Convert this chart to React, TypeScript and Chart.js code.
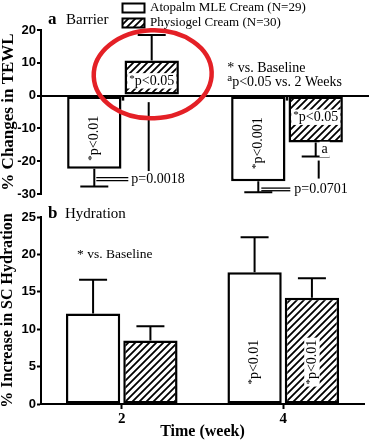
import React, { useEffect, useRef } from "react";
import { Chart, registerables } from "chart.js";
Chart.register(...registerables);

const weeks = ["2", "4"];
const seriesNames = ["Atopalm MLE Cream (N=29)", "Physiogel Cream (N=30)"];

const tewlAtopalm = [-22.3, -26.1];
const tewlAtopalmErr = [-27.7, -29.5];
const tewlPhysiogel = [10.7, -14.3];
const tewlPhysiogelErr = [18.5, -18.6];
const tewlTicks = [-30, -20, -10, 0, 10, 20];

const hydAtopalm = [12.1, 17.6];
const hydAtopalmErr = [16.6, 22.3];
const hydPhysiogel = [8.5, 14.2];
const hydPhysiogelErr = [10.4, 16.8];
const hydTicks = [0, 5, 10, 15, 20, 25];

const SERIF = '"Liberation Serif", "Times New Roman", serif';
const SANS = '"Liberation Sans Narrow", "Liberation Sans", Arial, sans-serif';
const RED = "rgb(228,32,38)";

function makeHatch(): CanvasPattern {
  const s = 7;
  const c = document.createElement("canvas");
  c.width = s;
  c.height = s;
  const g = c.getContext("2d")!;
  g.fillStyle = "#fff";
  g.fillRect(0, 0, s, s);
  g.strokeStyle = "#000";
  g.lineWidth = 1.8;
  g.beginPath();
  g.moveTo(-1, s + 1);
  g.lineTo(s + 1, -1);
  g.moveTo(-1, 1);
  g.lineTo(1, -1);
  g.moveTo(s - 1, s + 1);
  g.lineTo(s + 1, s - 1);
  g.stroke();
  return g.createPattern(c, "repeat")!;
}

type LOpts = {
  rot?: number;
  bg?: boolean;
  sup?: string;
  supRaise?: number;
  align?: "left" | "center";
  bold?: boolean;
};

function label(ctx: CanvasRenderingContext2D, text: string, x: number, y: number, size: number, o: LOpts = {}) {
  ctx.save();
  ctx.translate(x, y);
  if (o.rot) ctx.rotate(o.rot);
  const main = `${o.bold ? "bold " : ""}${size}px ${SERIF}`;
  const supF = `${Math.round(size * 0.75)}px ${SERIF}`;
  ctx.font = supF;
  const ws = o.sup ? ctx.measureText(o.sup).width : 0;
  ctx.font = main;
  const wm = ctx.measureText(text).width;
  const w = ws + wm;
  const x0 = o.align === "left" ? 0 : -w / 2;
  if (o.bg) {
    ctx.fillStyle = "#fff";
    ctx.fillRect(x0 - 2, -size * 0.55, w + 4, size * 1.1);
  }
  ctx.fillStyle = "#000";
  ctx.textBaseline = "middle";
  ctx.textAlign = "left";
  if (o.sup) {
    ctx.font = supF;
    ctx.fillText(o.sup, x0, -size * (o.supRaise ?? 0.15));
  }
  ctx.font = main;
  ctx.fillText(text, x0 + ws, 0);
  ctx.restore();
}

function drawErrors(chart: any, errs: number[][]) {
  const ctx: CanvasRenderingContext2D = chart.ctx;
  const ys = chart.scales.y;
  ctx.save();
  ctx.strokeStyle = "#000";
  ctx.lineWidth = 2;
  errs.forEach((arr, d) => {
    const meta = chart.getDatasetMeta(d);
    arr.forEach((e, i) => {
      const b: any = meta.data[i];
      const y1 = ys.getPixelForValue(e);
      ctx.beginPath();
      ctx.moveTo(b.x, b.y);
      ctx.lineTo(b.x, y1);
      ctx.moveTo(b.x - 14, y1);
      ctx.lineTo(b.x + 14, y1);
      ctx.stroke();
    });
  });
  ctx.restore();
}

function line(ctx: CanvasRenderingContext2D, x1: number, y1: number, x2: number, y2: number, w = 1.5) {
  ctx.save();
  ctx.strokeStyle = "#000";
  ctx.lineWidth = w;
  ctx.beginPath();
  ctx.moveTo(x1, y1);
  ctx.lineTo(x2, y2);
  ctx.stroke();
  ctx.restore();
}

export default function App() {
  const topRef = useRef<HTMLCanvasElement>(null);
  const botRef = useRef<HTMLCanvasElement>(null);

  useEffect(() => {
    const hatch = makeHatch();

    const topPlugin = {
      id: "topDeco",
      afterDraw(chart: any) {
        const ctx: CanvasRenderingContext2D = chart.ctx;
        const xs = chart.scales.x;
        const ys = chart.scales.y;
        const bar = (d: number, i: number) => chart.getDatasetMeta(d).data[i] as any;
        const Y = (v: number) => ys.getPixelForValue(v);
        weeks.forEach((_, i) => {
          const x = xs.getPixelForValue(i);
          line(ctx, x, Y(0), x, Y(0) + 5, 2.5);
        });
        drawErrors(chart, [tewlAtopalmErr, tewlPhysiogelErr]);
        label(ctx, "p<0.05", bar(1, 0).x, Y(4.5), 14, { bg: true, sup: "*" });
        label(ctx, "p<0.01", bar(0, 0).x, Y(-13), 14, { rot: -Math.PI / 2, sup: "*" });
        label(ctx, "p<0.001", bar(0, 1).x, Y(-14.5), 14, { rot: -Math.PI / 2, sup: "*" });
        label(ctx, "p<0.05", bar(1, 1).x, Y(-6.6), 14, { bg: true, sup: "*" });
        label(ctx, "a", bar(1, 1).x + 9, Y(-16.4), 14, { bg: true });
        const b00 = bar(0, 0), b10 = bar(1, 0), b01 = bar(0, 1), b11 = bar(1, 1);
        line(ctx, b10.x - 3, Y(-2), b10.x - 3, Y(-23), 2);
        line(ctx, b00.x + 2, Y(-25), b00.x + 34, Y(-25), 1.3);
        line(ctx, b00.x + 2, Y(-25.9), b00.x + 34, Y(-25.9), 1.3);
        label(ctx, "p=0.0018", b00.x + 37, Y(-25.4), 14, { align: "left" });
        line(ctx, b11.x + 3, Y(-19.8), b11.x + 3, Y(-25.3), 2);
        line(ctx, b01.x + 3, Y(-28.2), b01.x + 32, Y(-28.2), 1.3);
        line(ctx, b01.x + 3, Y(-29), b01.x + 32, Y(-29), 1.3);
        label(ctx, "p=0.0701", b01.x + 36, Y(-28.6), 14, { align: "left" });
        label(ctx, "* vs. Baseline", b01.x - 31, Y(8.2), 14, { align: "left" });
        label(ctx, "p<0.05 vs. 2 Weeks", b01.x - 31, Y(4), 14, { align: "left", sup: "a", supRaise: 0.3 });
        ctx.save();
        ctx.lineWidth = 2;
        ctx.strokeStyle = "#000";
        ctx.fillStyle = "#fff";
        ctx.fillRect(122.5, 3.5, 22, 9);
        ctx.strokeRect(122.5, 3.5, 22, 9);
        ctx.fillStyle = hatch;
        ctx.fillRect(122.5, 18.5, 22, 9);
        ctx.strokeRect(122.5, 18.5, 22, 9);
        ctx.restore();
        label(ctx, seriesNames[0], 150, 8, 13, { align: "left" });
        label(ctx, seriesNames[1], 150, 23, 13, { align: "left" });
        label(ctx, "a", 48, 20, 17, { align: "left", bold: true });
        label(ctx, "Barrier", 66, 20, 15, { align: "left" });
        ctx.save();
        ctx.strokeStyle = RED;
        ctx.lineWidth = 4.5;
        ctx.beginPath();
        ctx.ellipse(b10.x + 1, Y(6.5), 59, 44, -0.04, 0, Math.PI * 2);
        ctx.stroke();
        ctx.restore();
      },
    };

    const botPlugin = {
      id: "botDeco",
      afterDraw(chart: any) {
        const ctx: CanvasRenderingContext2D = chart.ctx;
        const xs = chart.scales.x;
        const ys = chart.scales.y;
        const bar = (d: number, i: number) => chart.getDatasetMeta(d).data[i] as any;
        const Y = (v: number) => ys.getPixelForValue(v);
        drawErrors(chart, [hydAtopalmErr, hydPhysiogelErr]);
        label(ctx, "* vs. Baseline", xs.getPixelForValue(0) - 7, Y(20), 13.5);
        label(ctx, "p<0.01", bar(0, 1).x, Y(5.6), 14, { rot: -Math.PI / 2, sup: "*" });
        label(ctx, "p<0.01", bar(1, 1).x, Y(5.6), 14, { rot: -Math.PI / 2, sup: "*", bg: true });
        label(ctx, "b", 48, 9, 17, { align: "left", bold: true });
        label(ctx, "Hydration", 65, 9, 15, { align: "left" });
      },
    };

    const tickFont = { family: SANS, weight: "bold" as const, size: 13 };
    const barStyle = { borderColor: "#000", borderWidth: 2.5, borderSkipped: false as const };

    const top = new Chart(topRef.current!, {
      type: "bar",
      data: {
        labels: weeks,
        datasets: [
          { label: seriesNames[0], data: tewlAtopalm, backgroundColor: "#fff", ...barStyle, categoryPercentage: 0.7, barPercentage: 0.947 },
          { label: seriesNames[1], data: tewlPhysiogel, backgroundColor: hatch, ...barStyle, categoryPercentage: 0.7, barPercentage: 0.947 },
        ],
      },
      options: {
        animation: false,
        responsive: false,
        maintainAspectRatio: false,
        layout: { padding: { top: 30, bottom: 11, left: 0, right: 0 } },
        plugins: { legend: { display: false }, tooltip: { enabled: false } },
        scales: {
          x: { display: false, grid: { offset: false } },
          y: {
            min: -30,
            max: 20,
            afterBuildTicks: (s: any) => {
              s.ticks = tewlTicks.map((v) => ({ value: v }));
            },
            afterFit: (s: any) => {
              s.width = 41;
            },
            ticks: { font: tickFont, color: "#000", padding: 1 },
            grid: {
              color: (c: any) => (c.tick && c.tick.value === 0 ? "#000" : "rgba(0,0,0,0)"),
              lineWidth: 2,
              tickColor: "#000",
              tickWidth: 2,
              tickLength: 4,
            },
            border: { color: "#000", width: 2 },
            title: {
              display: true,
              text: "% Changes in TEWL",
              font: { family: SERIF, weight: "bold", size: 17, lineHeight: 1 },
              color: "#000",
              padding: 0,
            },
          },
        },
      } as any,
      plugins: [topPlugin],
    });

    const bot = new Chart(botRef.current!, {
      type: "bar",
      data: {
        labels: weeks,
        datasets: [
          { label: seriesNames[0], data: hydAtopalm, backgroundColor: "#fff", ...barStyle, categoryPercentage: 0.71, barPercentage: 0.947 },
          { label: seriesNames[1], data: hydPhysiogel, backgroundColor: hatch, ...barStyle, categoryPercentage: 0.71, barPercentage: 0.947 },
        ],
      },
      options: {
        animation: false,
        responsive: false,
        maintainAspectRatio: false,
        layout: { padding: { top: 12, bottom: 0, left: 0, right: 5 } },
        plugins: { legend: { display: false }, tooltip: { enabled: false } },
        scales: {
          x: {
            afterFit: (s: any) => {
              s.height = 37;
            },
            grid: { offset: false, drawOnChartArea: false, tickLength: 5, tickColor: "#000", tickWidth: 2, color: "#000" },
            border: { color: "#000", width: 2 },
            ticks: { font: { family: SERIF, weight: "bold", size: 15 }, color: "#000", padding: 1 },
            title: {
              display: true,
              text: "Time (week)",
              font: { family: SERIF, weight: "bold", size: 16, lineHeight: 1.2 },
              color: "#000",
              padding: 0,
            },
          },
          y: {
            min: 0,
            max: 25,
            afterBuildTicks: (s: any) => {
              s.ticks = hydTicks.map((v) => ({ value: v }));
            },
            afterFit: (s: any) => {
              s.width = 41;
            },
            ticks: { font: tickFont, color: "#000", padding: 1 },
            grid: { drawOnChartArea: false, tickColor: "#000", tickWidth: 2, tickLength: 4, color: "#000" },
            border: { color: "#000", width: 2 },
            title: {
              display: true,
              text: "% Increase in SC Hydration",
              font: { family: SERIF, weight: "bold", size: 16, lineHeight: 1 },
              color: "#000",
              padding: 0,
            },
          },
        },
      } as any,
      plugins: [botPlugin],
    });

    return () => {
      top.destroy();
      bot.destroy();
    };
  }, []);

  return (
    <div style={{ position: "absolute", left: 0, top: 0, width: 369, height: 441, background: "#fff" }}>
      <canvas ref={topRef} width={369} height={205} style={{ position: "absolute", left: 0, top: 0, display: "block" }} />
      <canvas ref={botRef} width={369} height={236} style={{ position: "absolute", left: 0, top: 205, display: "block" }} />
    </div>
  );
}
